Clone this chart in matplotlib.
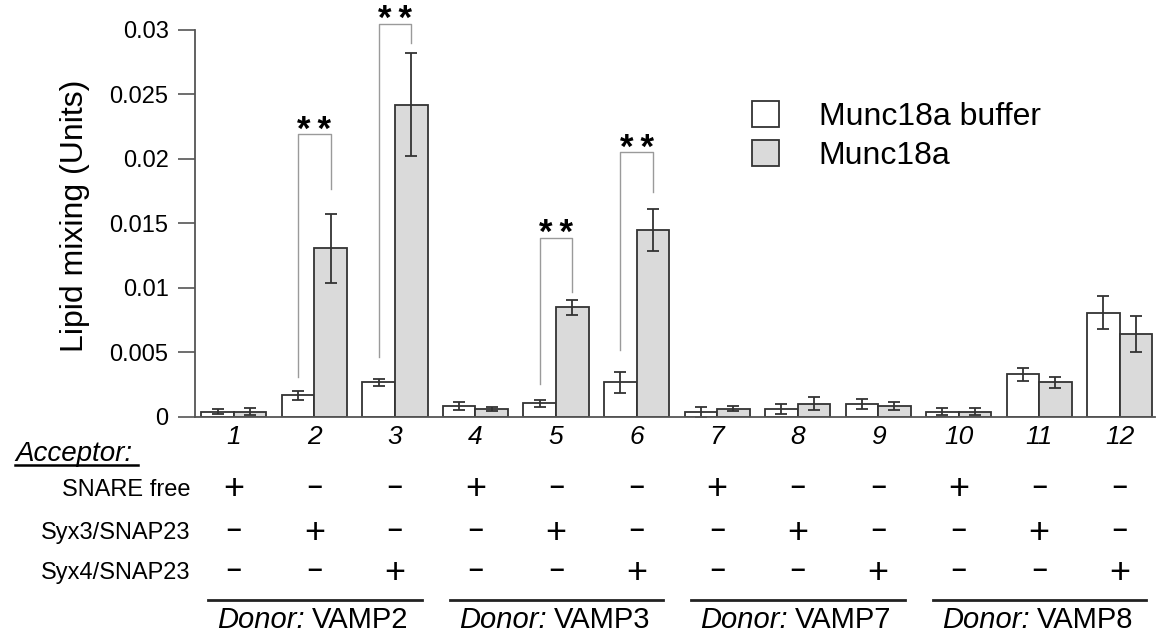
import numpy as np
import matplotlib
matplotlib.use('Agg')
from matplotlib import pyplot as plt

plt.rcParams['font.family'] = ['Liberation Sans', 'DejaVu Sans']

# data
groups = ['1', '2', '3', '4', '5', '6', '7', '8', '9', '10', '11', '12']
buffer_vals = [0.0004, 0.00166, 0.00266, 0.00083, 0.00103, 0.00266,
               0.00039, 0.00062, 0.0010, 0.00039, 0.00328, 0.00807]
buffer_err = [0.0002, 0.00035, 0.00025, 0.0003, 0.0003, 0.0008,
              0.0004, 0.0004, 0.0004, 0.00025, 0.0005, 0.0013]
munc_vals = [0.0004, 0.01306, 0.0242, 0.00062, 0.00848, 0.01448,
             0.00062, 0.0010, 0.00083, 0.00039, 0.00266, 0.00639]
munc_err = [0.0003, 0.0027, 0.0040, 0.00015, 0.0006, 0.0016,
            0.0002, 0.0005, 0.0003, 0.00025, 0.0004, 0.0014]

# significance brackets: group index, left foot, top, right foot
sig_groups = [1, 2, 4, 5]
sig_left = [0.0031, 0.0046, 0.0025, 0.0052]
sig_top = [0.0219, 0.0305, 0.0139, 0.0205]
sig_right = [0.0177, 0.0290, 0.0097, 0.0174]

# acceptor table
row_labels = ['SNARE free', 'Syx3/SNAP23', 'Syx4/SNAP23']
snare_free = ['+', '-', '-', '+', '-', '-', '+', '-', '-', '+', '-', '-']
syx3 = ['-', '+', '-', '-', '+', '-', '-', '+', '-', '-', '+', '-']
syx4 = ['-', '-', '+', '-', '-', '+', '-', '-', '+', '-', '-', '+']
donors = ['VAMP2', 'VAMP3', 'VAMP7', 'VAMP8']

W, H = 1157, 635
fig = plt.figure(figsize=(W / 100, H / 100), dpi=100)
# axes placed in pixel terms of the reference
ax = fig.add_axes([195 / W, 1 - 416.7 / H, (1155 - 195) / W, (416.7 - 30) / H])

x = np.arange(len(groups))
bw = 0.404
edge = '#333333'
ekw = dict(ecolor='#333333', elinewidth=1.3, capthick=1.3)
ax.bar(x - bw / 2, buffer_vals, bw, yerr=buffer_err, color='white', edgecolor=edge,
       linewidth=1.3, capsize=4, error_kw=ekw, label='Munc18a buffer')
ax.bar(x + bw / 2, munc_vals, bw, yerr=munc_err, color='#dadada', edgecolor=edge,
       linewidth=1.3, capsize=4, error_kw=ekw, label='Munc18a')

for g, yl, yt, yr in zip(sig_groups, sig_left, sig_top, sig_right):
    xl, xr = g - bw / 2, g + bw / 2
    ax.plot([xl, xl, xr, xr], [yl, yt, yt, yr], color='#9a9a9a', lw=1, clip_on=False)
    # asterisks sit high in the em box, so put the baseline a bit below the bracket
    ax.annotate('*\u2009*', (g, yt), xytext=(0, -4), textcoords='offset points',
                ha='center', va='baseline', fontsize=25, fontweight='bold',
                annotation_clip=False)

ax.set_ylim(0, 0.03)
ax.set_xlim(-0.484, 11.44)
ax.set_yticks([0, 0.005, 0.01, 0.015, 0.02, 0.025, 0.03])
ax.set_yticklabels(['0', '0.005', '0.01', '0.015', '0.02', '0.025', '0.03'], fontsize=17)
ax.set_xticks(x)
ax.set_xticklabels(groups, fontsize=19, style='italic')
ax.tick_params(axis='x', length=0, pad=6)
ax.tick_params(axis='y', direction='out', length=12, width=1.2, color='#555555', pad=7)
ax.set_ylabel('Lipid mixing (Units)', fontsize=23)
ax.yaxis.set_label_coords(-(195 - 90) / 960, 0.519)
for s in ['top', 'right']:
    ax.spines[s].set_visible(False)
for s in ['left', 'bottom']:
    ax.spines[s].set_color('#555555')
    ax.spines[s].set_linewidth(1.3)

ax.legend(loc='upper left', bbox_to_anchor=(0.55, 0.89), frameon=False, fontsize=23,
          handlelength=0.85, handleheight=0.85, handletextpad=1.25, labelspacing=0.25)

# table below the axis
tr = ax.get_xaxis_transform()
def fy(py):
    return (416.7 - py) / (416.7 - 30)

row_y = [490, 533, 573]
for lab, vals, py in zip(row_labels, [snare_free, syx3, syx4], row_y):
    fig.text(190 / W, 1 - py / H, lab, ha='right', va='center', fontsize=17)
    for xi, v in zip(x, vals):
        if v == '+':
            ax.text(xi, fy(py), '+', transform=tr, ha='center', va='center',
                    fontsize=26, clip_on=False)
        else:
            # short thick dash like the reference's minus
            ax.text(xi, fy(py - 3), '\u2013', transform=tr, ha='center', va='center',
                    fontsize=19, fontweight='bold', clip_on=False)

fig.text(15 / W, 1 - 454 / H, 'Acceptor:', ha='left', va='center', fontsize=20, style='italic')
fig.add_artist(plt.Line2D([15 / W, 138 / W], [1 - 465 / H, 1 - 465 / H], color='black', lw=1.8))

for k, d in enumerate(donors):
    c = 3 * k + 1
    ax.plot([3 * k - 0.32, 3 * k + 2.33], [fy(600), fy(600)], transform=tr,
            color='#222222', lw=2, clip_on=False)
    ax.text(c - 0.12, fy(620), 'Donor:', transform=tr, ha='right', va='center',
            fontsize=21, style='italic', clip_on=False)
    ax.text(c - 0.03, fy(620), d, transform=tr, ha='left', va='center',
            fontsize=21, clip_on=False)

fig.savefig('out.png', dpi=100)
